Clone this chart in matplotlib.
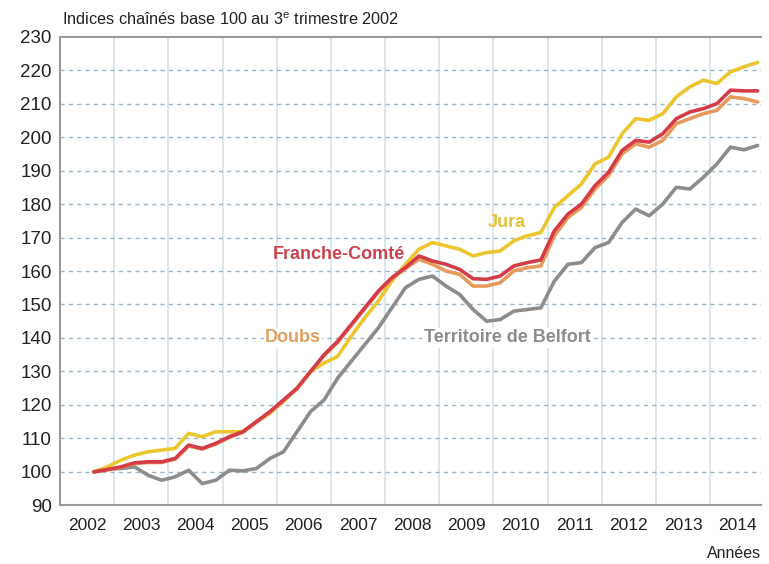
import matplotlib
matplotlib.use("Agg")
import matplotlib.pyplot as plt
import numpy as np

plt.rcParams['font.family'] = ['Liberation Sans', 'DejaVu Sans']
plt.rcParams['mathtext.fontset'] = 'custom'
plt.rcParams['mathtext.rm'] = 'Liberation Sans'

# quarterly values, 2002 T3 -> 2014 T4
quarters = 2002.625 + 0.25 * np.arange(50)

franche_comte = [100, 100.7, 101.5, 102.7, 103, 103, 104, 108, 107, 108.5,
                 110.5, 112, 115, 118, 121.5, 125, 130, 135, 139, 144,
                 149, 154, 158, 161, 164.5, 163, 162, 160.5, 157.7, 157.5,
                 158.5, 161.5, 162.5, 163.3, 172, 177, 180, 185.5, 189.5, 196,
                 199, 198.5, 201, 205.5, 207.5, 208.5, 210, 214, 213.8, 213.8]

doubs = [100, 100.6, 101.3, 102.5, 102.8, 102.8, 103.8, 107.7, 106.8, 108.3,
         110.3, 111.8, 114.8, 117.8, 121.2, 124.8, 129.8, 134.7, 138.7, 143.7,
         148.7, 153.7, 157.7, 160.7, 163.5, 162, 160, 159, 155.5, 155.5,
         156.5, 160, 161, 161.5, 170.5, 176, 179, 184.5, 188.5, 195,
         198, 197, 199, 204, 205.5, 207, 208, 212, 211.5, 210.5]

jura = [100, 101.5, 103.5, 105, 106, 106.5, 107, 111.5, 110.5, 112,
        112, 112, 115, 117.5, 121, 125, 130, 132.5, 134.5, 140.5,
        146, 151, 157, 162, 166.5, 168.5, 167.5, 166.5, 164.5, 165.5,
        166, 169, 170.5, 171.5, 179, 182.5, 186, 192, 194, 201,
        205.5, 205, 207, 212, 215, 217, 216, 219.5, 221, 222.3]

belfort = [100, 100.8, 101, 101.5, 99, 97.5, 98.5, 100.5, 96.5, 97.5,
           100.5, 100.3, 101, 104, 106, 112, 118, 121.5, 128, 133,
           138, 143, 149, 155, 157.5, 158.5, 155.5, 153, 148.5, 145,
           145.5, 148, 148.5, 149, 157, 162, 162.5, 167, 168.5, 174.5,
           178.5, 176.5, 180, 185, 184.5, 188, 192, 197, 196.2, 197.5]

years = list(range(2002, 2015))

c_fc = '#d43c48'
c_doubs = '#e89a5c'
c_jura = '#ebc62e'
c_bel = '#8c8c8c'

fig = plt.figure(figsize=(7.69, 5.64), dpi=100)
ax = fig.add_axes([0.078, 0.104, 0.911, 0.831])

ax.set_xlim(2002, 2014.93)
ax.set_ylim(90, 230)

# grid
for y in range(100, 230, 10):
    ax.axhline(y, color='#9db5c6', linestyle=(0, (3, 3)), linewidth=1.0, zorder=1)
for yr in years[1:]:
    ax.axvline(yr, color='#d6e1ea', linewidth=1.2, zorder=0)

kw = dict(linewidth=2.6, solid_joinstyle='round', solid_capstyle='round', zorder=3)
ax.plot(quarters, belfort, color=c_bel, **kw)
ax.plot(quarters, jura, color=c_jura, **kw)
ax.plot(quarters, doubs, color=c_doubs, **kw)
ax.plot(quarters, franche_comte, color=c_fc, **kw)

ax.set_yticks(range(90, 231, 10))
ax.set_xticks([y + 0.5 for y in years])
ax.set_xticklabels([str(y) for y in years])
ax.tick_params(axis='both', length=0, colors='#222222')
ax.tick_params(axis='x', pad=9, labelsize=12.5)
ax.tick_params(axis='y', pad=6, labelsize=13.5)

for s in ['left', 'bottom', 'top']:
    ax.spines[s].set_color('#9a9a9a')
    ax.spines[s].set_linewidth(1.5)
ax.spines['right'].set_visible(False)

lab = dict(fontsize=13, fontweight='bold', ha='center', va='center', zorder=4)
ax.text(2010.25, 174.6, 'Jura', color='#e6c23a', **lab)
ax.text(2007.15, 164.8, 'Franche-Comté', color='#c9434f', **lab)
ax.text(2006.3, 140, 'Doubs', color='#e0a060',
        bbox=dict(facecolor='white', edgecolor='none', pad=1), **lab)
ax.text(2010.25, 140, 'Territoire de Belfort', color='#8c8c8c',
        bbox=dict(facecolor='white', edgecolor='none', pad=1), **lab)

fig.text(0.081, 0.965, r'Indices chaînés base 100 au 3$^{\mathrm{e}}$ trimestre 2002',
         fontsize=11.7, ha='left', va='center', color='#222222')
fig.text(0.955, 0.018, 'Années', fontsize=11.5, ha='center', va='center', color='#222222')

fig.savefig('out.png', dpi=100)
